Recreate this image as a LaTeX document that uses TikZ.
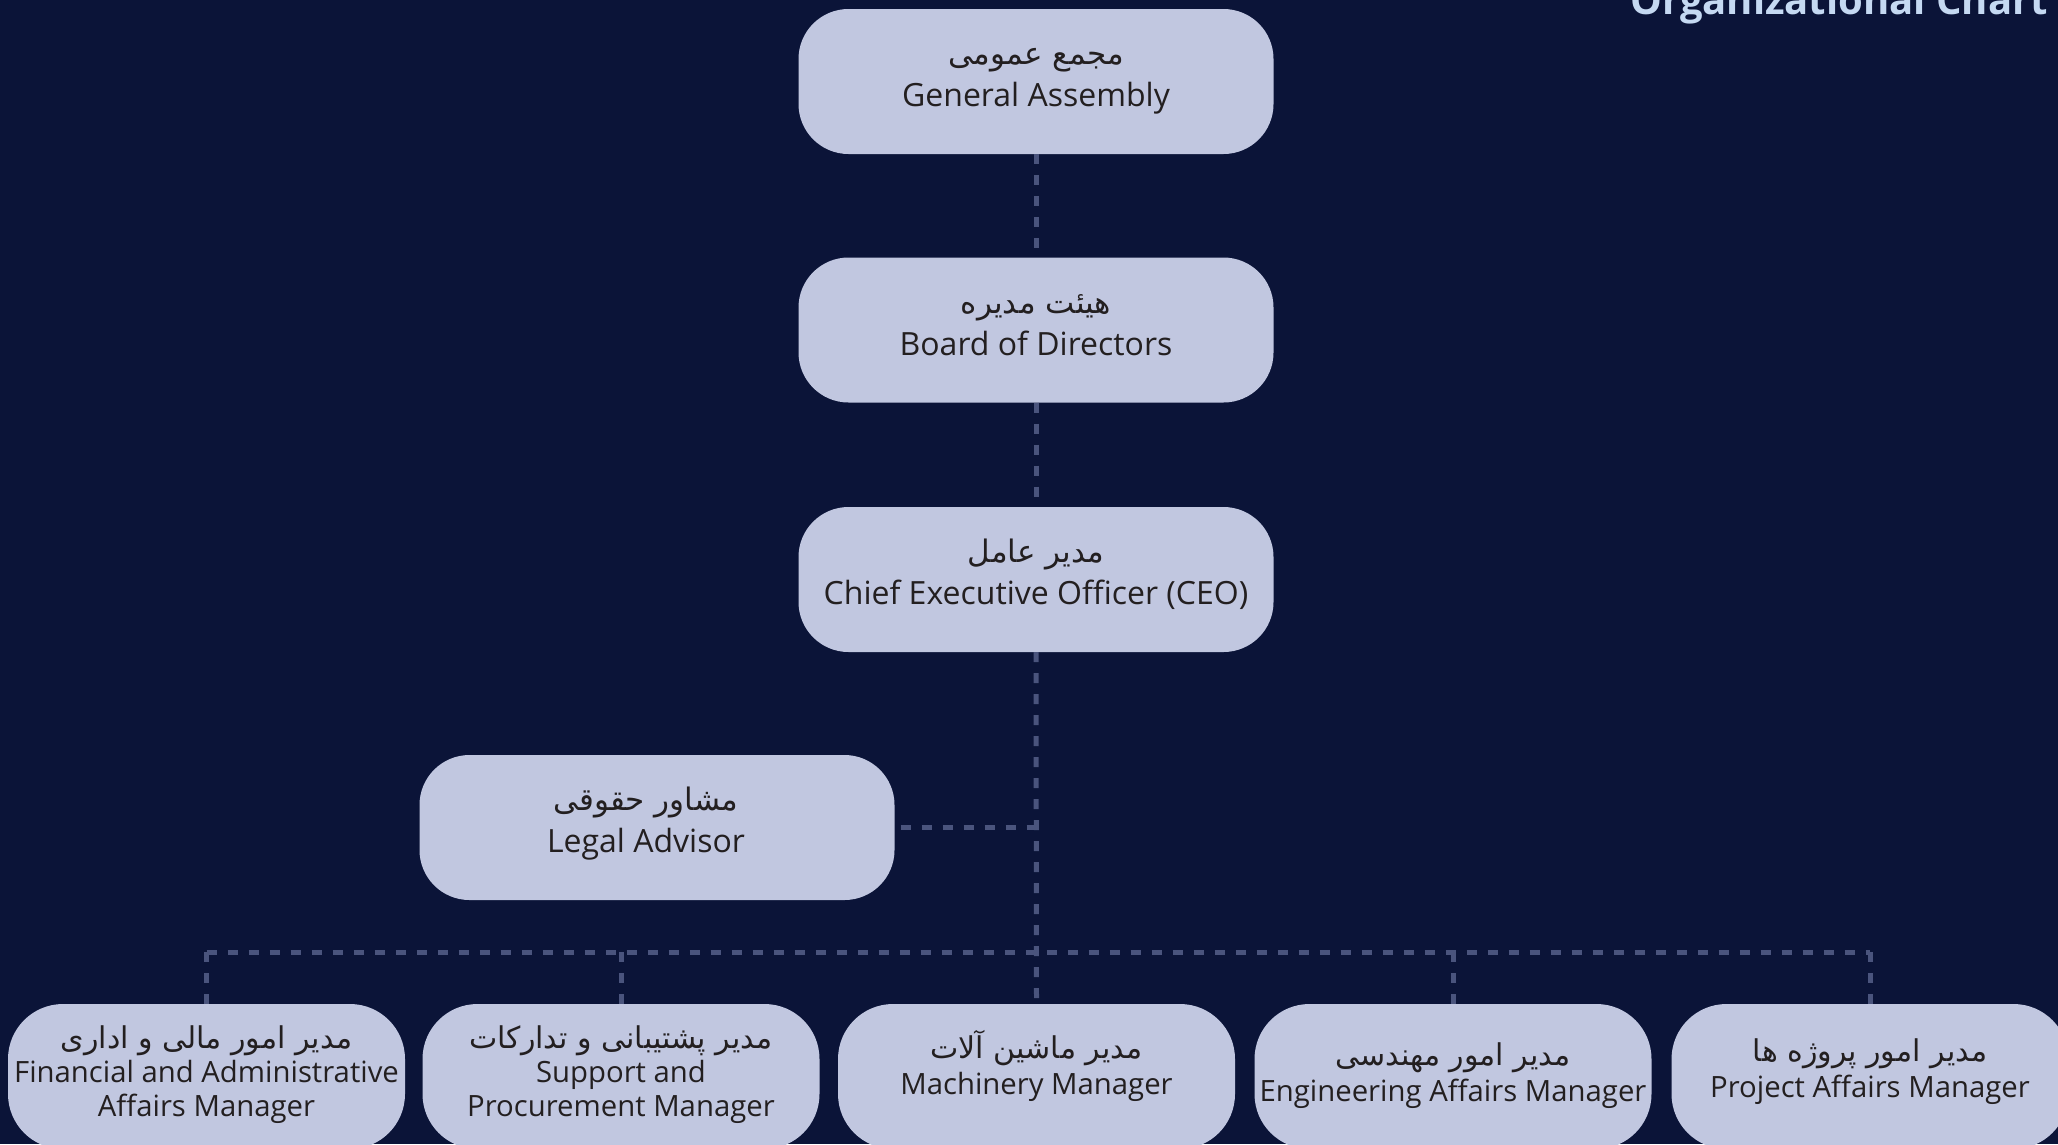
\documentclass[tikz,border=0pt]{standalone}
\usepackage{fontspec}
\setmainfont{Open Sans}
\newfontfamily\persfont[Script=Arabic]{DejaVu Sans}
\TeXXeTstate=1
\definecolor{bgc}{RGB}{11,20,56}
\definecolor{nodefill}{RGB}{193,199,224}
\definecolor{ink}{RGB}{35,31,32}
\definecolor{linec}{RGB}{74,84,125}
\definecolor{titlec}{RGB}{197,217,242}
\newcommand\pers[1]{{\persfont\fontsize{31}{40}\selectfont\beginR #1\endR}}
\newcommand\perss[1]{{\persfont\fontsize{30}{34}\selectfont\beginR #1\endR}}
\begin{document}
\begin{tikzpicture}[x=1pt,y=-1pt,
  box/.style={fill=nodefill, rounded corners=50pt, minimum width=475pt, minimum height=145pt,
    align=center, text=ink, inner sep=0pt, font=\fontsize{32}{42}\selectfont,
    text height=62pt, text depth=12pt},
  sbox/.style={box, minimum width=397pt, rounded corners=55pt, font=\fontsize{29.3}{36}\selectfont,
    text height=49pt, text depth=13pt},
  sboxthree/.style={sbox, font=\fontsize{29.3}{34}\selectfont, text height=91pt, text depth=11pt},
  conn/.style={draw=linec, line width=5pt, dash pattern=on 10pt off 11pt},
  titlestyle/.style={text=titlec, inner sep=0pt, font=\fontsize{40}{48}\selectfont\bfseries}]
\fill[bgc] (0,0) rectangle (2058,1144);
\useasboundingbox (0,0) rectangle (2058,1144);

\node[titlestyle, anchor=base east] (title) at (2048,14) {Organizational Chart};

\node[box] (ga) at (1036,81.5) {\pers{مجمع عمومی}\\General Assembly};
\node[box] (board) at (1036,330) {\pers{هیئت مدیره}\\Board of Directors};
\node[box] (ceo) at (1036,579.5) {\pers{مدیر عامل}\\Chief Executive Officer (CEO)};
\node[box] (legal) at (657,827.5) {\pers{مشاور حقوقی}\hspace*{22pt}\\Legal Advisor\hspace*{22pt}};

\node[sboxthree] (fin) at (206.5,1076.5) {\perss{مدیر امور مالی و اداری}\\Financial and Administrative\\Affairs Manager};
\node[sboxthree] (supp) at (621,1076.5) {\perss{مدیر پشتیبانی و تدارکات}\\Support and\\Procurement Manager};
\node[sbox] (mach) at (1036.5,1076.5) {\perss{مدیر ماشین آلات}\\Machinery Manager};
\node[sbox, text height=62pt] (eng) at (1453,1076.5) {\perss{مدیر امور مهندسی}\\Engineering Affairs Manager};
\node[sbox, text height=54pt] (proj) at (1870,1076.5) {\perss{مدیر امور پروژه ها}\\Project Affairs Manager};

\coordinate (bus) at (1037,952);

\draw[conn] (ga.south) -- (board.north);
\draw[conn] (board.south) -- (ceo.north);
\draw[conn] (ceo.south) -- (mach.north);
\draw[conn] ([xshift=6pt]legal.east) -- (legal.east -| ceo.south);
\draw[conn] (fin.north |- bus) -- (proj.north |- bus);
\draw[conn] (fin.north |- bus) -- (fin.north);
\draw[conn] (supp.north |- bus) -- (supp.north);
\draw[conn] (eng.north |- bus) -- (eng.north);
\draw[conn] (proj.north |- bus) -- (proj.north);
\end{tikzpicture}
\end{document}
